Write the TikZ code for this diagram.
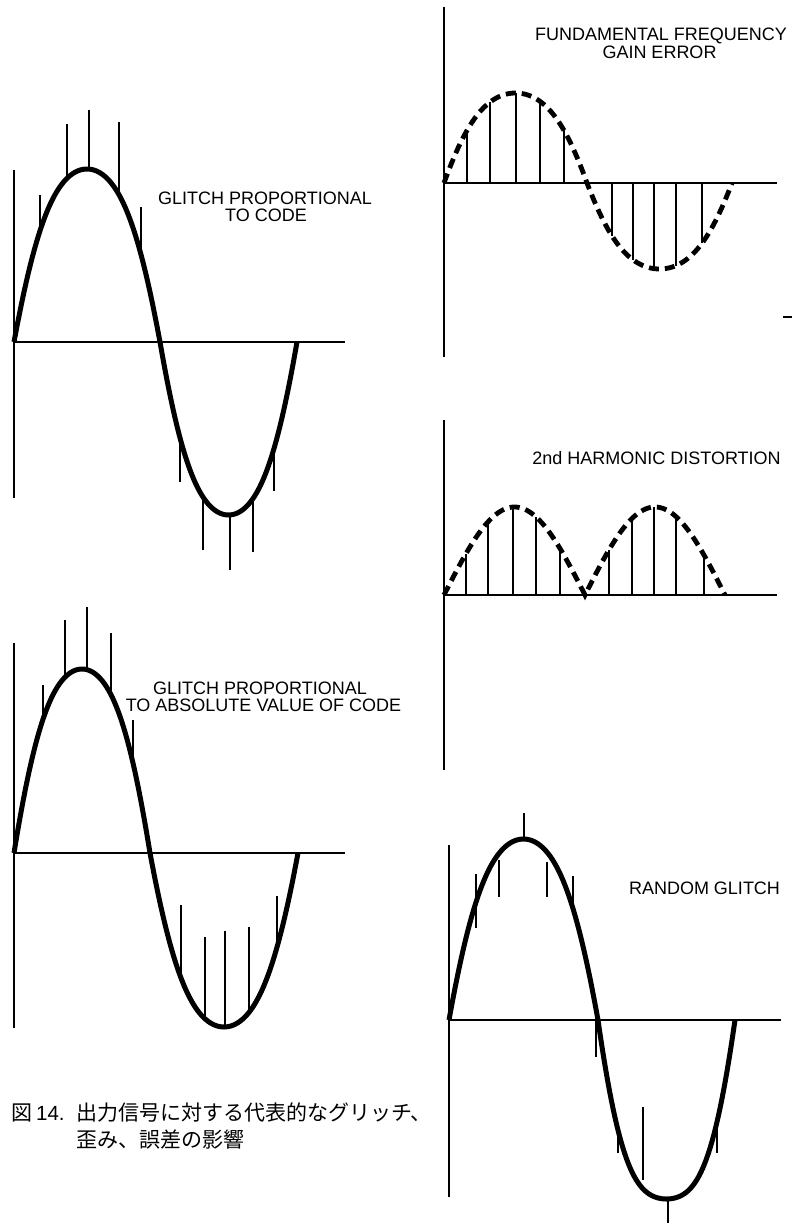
\documentclass[tikz,border=0pt]{standalone}
\usepackage{fontspec}
\setmainfont{Liberation Sans}
\newfontfamily\cjkfont{Noto Sans CJK JP}
\begin{document}
\begin{tikzpicture}[x=1pt,y=-1pt,
  declare function={hump(\t,\k)=sin(\t)*(1+\k*(1-sin(\t)));},
  axis/.style={line width=1.7pt},
  curve/.style={line width=5pt,line join=round},
  dcurve/.style={line width=4.8pt,dash pattern=on 10pt off 6pt},
  stem/.style={line width=1.1pt},
  lbl/.style={inner sep=0pt,anchor=base,font=\fontsize{18}{20}\selectfont},
  captext/.style={inner sep=0pt,anchor=base west,font=\cjkfont\fontsize{21}{24}\selectfont},
  capnum/.style={inner sep=0pt,anchor=base west,font=\fontsize{20.5}{24}\selectfont}]
\fill[white] (0,0) rectangle (792,1223);
\useasboundingbox (0,0) rectangle (792,1223);

% ---------- Panel 1: glitch proportional to code ----------
\draw[axis] (14,170) -- (14,498);
\draw[axis] (14,342) -- (345,342);
\draw[curve] plot[domain=0:180,samples=73] ({14+\x/180*146},{342-173*hump(\x,0.45)})
  -- plot[domain=0:180,samples=73] ({160+\x/180*137},{342+173*hump(\x,0.45)});
\foreach \xx/\yy in {40/195,67/124,89/110,119/122,141/207}
  \draw[stem] (\xx,{342-173*hump((\xx-14)/146*180,0.45)}) -- (\xx,\yy);
\foreach \xx/\yy in {180/482,203/550,230/570,253/552,274/491}
  \draw[stem] (\xx,{342+173*hump((\xx-160)/137*180,0.45)}) -- (\xx,\yy);
\node[lbl] (t1a) at (265,204) {GLITCH PROPORTIONAL};
\node[lbl] (t1b) at (266,221.7) {TO CODE};

% ---------- Panel 2: glitch proportional to absolute value ----------
\draw[axis] (14,643) -- (14,1028);
\draw[axis] (14,853) -- (345,853);
\draw[curve] plot[domain=0:180,samples=73] ({14+\x/180*136},{853-184*hump(\x,0.45)})
  -- plot[domain=0:180,samples=73] ({150+\x/180*148},{853+174*hump(\x,0.45)});
\foreach \xx/\yy in {43/685,65/620,87/607,111/633,133/720}
  \draw[stem] (\xx,{853-184*hump((\xx-14)/136*180,0.45)}) -- (\xx,\yy);
\foreach \xx/\yy in {181/905,205/937,225/931,249/927,277/896}
  \draw[stem] (\xx,{853+174*hump((\xx-150)/148*180,0.45)}) -- (\xx,\yy);
\node[lbl] (t2a) at (260,694.3) {GLITCH PROPORTIONAL};
\node[lbl] (t2b) at (263.5,711.7) {TO ABSOLUTE VALUE OF CODE};

% ---------- Panel 3: fundamental frequency gain error ----------
\draw[axis] (444,7) -- (444,357);
\draw[axis] (444,183) -- (777,183);
\draw[axis] (783,317) -- (792,317);
\foreach \xx in {467,490,516,540,564}
  \draw[stem] (\xx,183) -- (\xx,{183-90*hump((\xx-444)/143*180,0.4)});
\foreach \xx in {612,633,654,676,702}
  \draw[stem] (\xx,183) -- (\xx,{183+86*hump((\xx-587)/145*180,0.4)});
\draw[dcurve] plot[domain=0:180,samples=73] ({444+\x/180*143},{183-90*hump(\x,0.4)})
  -- plot[domain=0:180,samples=73] ({587+\x/180*145},{183+86*hump(\x,0.4)});
\node[lbl] (t3a) at (661,41) {FUNDAMENTAL FREQUENCY};
\node[lbl] (t3b) at (659.5,59) {GAIN ERROR};

% ---------- Panel 4: 2nd harmonic distortion ----------
\draw[axis] (444,420) -- (444,770);
\draw[axis] (444,595) -- (777,595);
\foreach \xx in {466,488,513,536,560}
  \draw[stem] (\xx,595) -- (\xx,{595-88*hump((\xx-444)/141*180,0)});
\foreach \xx in {609,632,654,676,704}
  \draw[stem] (\xx,595) -- (\xx,{595-88*hump((\xx-585)/140*180,0)});
\draw[dcurve] plot[domain=0:180,samples=73] ({444+\x/180*141},{595-88*hump(\x,0)})
  -- plot[domain=0:180,samples=73] ({585+\x/180*140},{595-88*hump(\x,0)});
\node[lbl] (t4) at (656.5,464) {2nd HARMONIC DISTORTION};

% ---------- Panel 5: random glitch ----------
\draw[axis] (449,845) -- (449,1197);
\draw[axis] (449,1020) -- (781,1020);
\draw[curve] plot[domain=0:180,samples=73] ({449+\x/180*149},{1020-181*hump(\x,0.45)})
  -- plot[domain=0:180,samples=73] ({598+\x/180*137},{1020+179*hump(\x,0.7)});
\foreach \xx/\ya/\yb in {476/874/928,499/860/897,524/813/839,547/862/897,573/876/910,
  596/1020/1057,618/1130/1153,643/1107/1180,668/1199/1223,717/1126/1153}
  \draw[stem] (\xx,\ya) -- (\xx,\yb);
\node[lbl] (t5) at (704.5,894) {RANDOM GLITCH};

% ---------- Caption ----------
\node[captext] (c0) at (11,1120) {図};
\node[capnum] (c0n) at (36,1120) {14.};
\node[captext] (c1) at (76,1120) {出力信号に対する代表的なグリッチ、};
\node[captext] (c2) at (76,1147) {歪み、誤差の影響};
\end{tikzpicture}
\end{document}
